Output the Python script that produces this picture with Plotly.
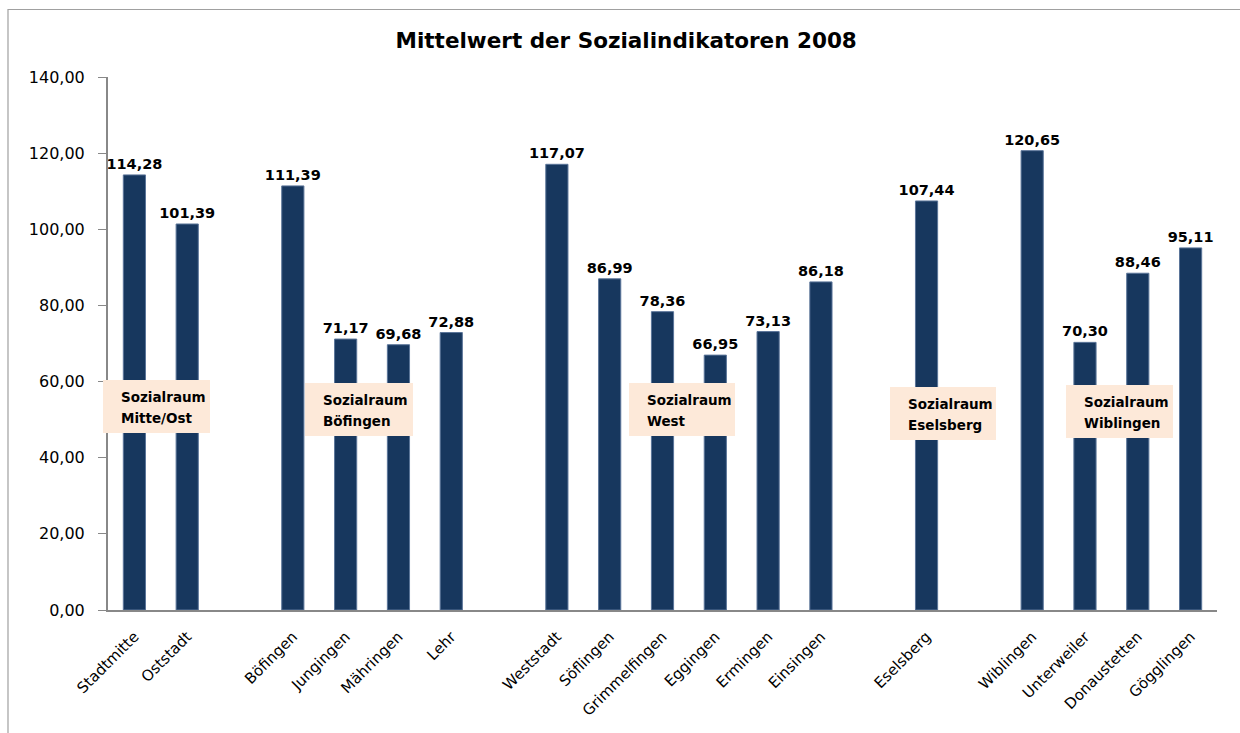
import plotly.graph_objects as go

categories = ["Stadtmitte", "Oststadt", " ", "Böfingen", "Jungingen", "Mähringen", "Lehr", "  ",
              "Weststadt", "Söflingen", "Grimmelfingen", "Eggingen", "Ermingen", "Einsingen", "   ",
              "Eselsberg", "    ", "Wiblingen", "Unterweiler", "Donaustetten", "Gögglingen"]
values = [114.28, 101.39, None, 111.39, 71.17, 69.68, 72.88, None,
          117.07, 86.99, 78.36, 66.95, 73.13, 86.18, None,
          107.44, None, 120.65, 70.30, 88.46, 95.11]
tick_values = [0, 20, 40, 60, 80, 100, 120, 140]
title_text = "Mittelwert der Sozialindikatoren 2008"
box_labels = [("Sozialraum", "Mitte/Ost"), ("Sozialraum", "Böfingen"), ("Sozialraum", "West"),
              ("Sozialraum", "Eselsberg"), ("Sozialraum", "Wiblingen")]

W, H = 1240, 733
L, R, T, B = 108, 23, 77, 123
PW, PH = W - L - R, H - T - B

def px_x(px):
    return (px - L) / PW

def px_y(py):
    return (H - B - py) / PH

# box pixel rectangles (left, top, right, bottom)
box_rects = [(103, 380, 210, 433), (305, 383, 413, 436), (629, 383, 735, 436),
             (890, 387, 996, 440), (1066, 385, 1173, 438)]

fig = go.Figure()
fig.add_trace(go.Bar(
    x=categories, y=values,
    marker=dict(color="#17375E", line=dict(color="#5B7599", width=1)),
    texttemplate="<b>%{y:.2f}</b>", textposition="outside",
    textfont=dict(family="DejaVu Sans", size=14.5, color="black"),
    constraintext="none",
    cliponaxis=False,
    hoverinfo="skip",
))

shapes = [dict(type="rect", xref="paper", yref="paper",
               x0=px_x(8), x1=px_x(1250), y0=px_y(745), y1=px_y(9.5),
               line=dict(color="#A0A0A0", width=1.2), fillcolor="rgba(0,0,0,0)", layer="below")]
annotations = []
for (l, t, r, b), (l1, l2) in zip(box_rects, box_labels):
    shapes.append(dict(type="rect", xref="paper", yref="paper",
                       x0=px_x(l), x1=px_x(r), y0=px_y(b), y1=px_y(t),
                       fillcolor="#FDE9D9", line=dict(width=0), layer="above"))
    for txt, dy in ((l1, 17), (l2, 38)):
        annotations.append(dict(xref="paper", yref="paper", x=px_x(l + 16), y=px_y(t + dy),
                                xanchor="left", yanchor="middle", showarrow=False,
                                text="<b>%s</b>" % txt,
                                font=dict(family="DejaVu Sans", size=13.5, color="black")))

fig.update_layout(
    width=W, height=H,
    margin=dict(l=L, r=R, t=T, b=B),
    paper_bgcolor="white", plot_bgcolor="white",
    separators=",.",
    showlegend=False,
    bargap=0.58,
    title=dict(text="<b>%s</b>" % title_text, x=0.505, xanchor="center",
               y=1 - 40 / H, yanchor="middle", yref="container",
               font=dict(family="DejaVu Sans", size=21.5, color="black")),
    xaxis=dict(type="category", tickangle=-45, showline=True, linecolor="#888888", linewidth=2,
               ticks="", tickfont=dict(family="DejaVu Sans", size=15, color="black"),
               ticklabelstandoff=10, showgrid=False),
    yaxis=dict(range=[0, 140], tickvals=tick_values, tickformat=".2f", showline=True,
               linecolor="#888888", linewidth=2, ticks="outside", ticklen=8, tickcolor="#888888",
               tickfont=dict(family="DejaVu Sans", size=16, color="black"), showgrid=False,
               ticklabelstandoff=10, zeroline=False),
    shapes=shapes,
    annotations=annotations,
)

fig.write_html("out.html", config={"displayModeBar": False},
               post_script="document.body.style.margin='0';")
